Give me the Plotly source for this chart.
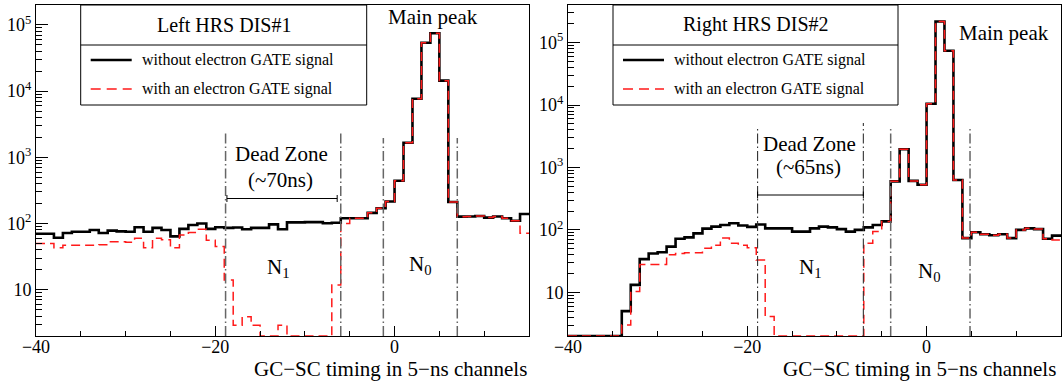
import plotly.graph_objects as go

# ---------------- data (counts per 5-ns channel, bins -40..14) ----------------
BIN_EDGES = list(range(-40, 16))

left_without = [70, 70, 61, 72, 75, 75, 80, 72, 78, 76,
                75, 88, 75, 86, 80, 64, 83, 95, 100, 83,
                88, 86, 87, 82, 86, 86, 97, 82, 104, 104,
                105, 105, 101, 103, 120, 120, 120, 145, 170, 215,
                443, 1660, 7670, 53800, 74700, 14400, 211, 127, 128, 130,
                123, 128, 120, 110, 139]
left_with = [50, 50, 43, 47, 47, 47, 47, 48, 53, 53,
             52, 60, 43, 60, 57, 43, 67, 73, 82, 56,
             45, 14, 2.9, 3.9, 2.9, 0, 0, 2.9, 0, 0,
             0, 0, 0, 11.8, 100, 120, 120, 145, 170, 215,
             443, 1660, 7670, 53800, 74700, 14400, 211, 127, 128, 130,
             123, 128, 120, 110, 71]

right_without = [0, 0, 0, 0, 0, 0, 5.0, 13.2, 34, 42,
                 44, 54, 72, 76, 88, 105, 113, 120, 128, 118,
                 112, 122, 106, 106, 106, 94, 94, 106, 113, 110,
                 103, 94, 100, 110, 120, 137, 600, 1960, 610, 530,
                 10500, 218000, 74000, 630, 74, 92, 85, 82, 85, 74,
                 100, 106, 103, 72, 81]
right_with = [0, 0, 0, 0, 0, 0, 3.0, 10.3, 28, 28,
              28, 40, 42, 43, 43, 51, 57, 74, 61, 57,
              52, 33, 4.1, 0, 0, 0, 0, 0, 0, 0,
              0, 0, 0, 61, 94, 137, 600, 1960, 610, 530,
              10500, 218000, 74000, 630, 74, 92, 85, 82, 85, 74,
              100, 106, 103, 72, 69]

left_zone_lines = [-18.85, -6.0]
left_peak_lines = [-1.25, 7.0]
right_zone_lines = [-18.85, -7.05]
right_peak_lines = [-4.0, 4.85]

x_major = [-40, -20, 0]
x_major_text = ["\u221240", "\u221220", "0"]
x_minor = [-35, -30, -25, -15, -10, -5, 5, 10, 15]
y_major = [10, 100, 1000, 10000, 100000]
y_major_text = ["10", "10<sup>2</sup>", "10<sup>3</sup>", "10<sup>4</sup>", "10<sup>5</sup>"]
y_minor = [m * 10 ** d for d in range(0, 6) for m in range(2, 10)]

Y_MIN = 2.0
W, H = 1062, 383
FONT = "'Liberation Serif', 'Times New Roman', 'DejaVu Serif', serif"


def px(x):
    return x / W


def py(y):
    return 1 - y / H


def steps(vals):
    v = [max(a, Y_MIN) for a in vals]
    return v + [v[-1]]


fig = go.Figure()

for xa, ya, wo, wi in (("x", "y", left_without, left_with),
                       ("x2", "y2", right_without, right_with)):
    fig.add_trace(go.Scatter(x=BIN_EDGES, y=steps(wo), mode="lines", line_shape="hv",
                             line=dict(color="black", width=2.6), xaxis=xa, yaxis=ya,
                             showlegend=False, hoverinfo="skip"))
    fig.add_trace(go.Scatter(x=BIN_EDGES, y=steps(wi), mode="lines", line_shape="hv",
                             line=dict(color="#ff1a1a", width=1.5, dash="9px,5px"),
                             xaxis=xa, yaxis=ya, showlegend=False, hoverinfo="skip"))

axis_common = dict(showgrid=False, zeroline=False, showline=True, linecolor="black",
                   linewidth=1, mirror=True, ticks="inside", tickcolor="black",
                   tickfont=dict(family=FONT, size=18, color="black"), automargin=False)

x_axis = dict(axis_common, range=[-40, 15], tickmode="array", tickvals=x_major,
              ticktext=x_major_text, ticklen=10, ticklabelstandoff=-6,
              minor=dict(tickmode="array", tickvals=x_minor, ticks="inside",
                         ticklen=5, tickcolor="black"))

y_axis = dict(axis_common, type="log", tickmode="array", tickvals=y_major,
              ticktext=y_major_text, ticklen=12,
              minor=dict(tickmode="array", tickvals=y_minor, ticks="inside",
                         ticklen=6, tickcolor="black"))

ydom = [py(336), py(5)]
fig.update_layout(
    width=W, height=H, autosize=False,
    margin=dict(l=0, r=0, t=0, b=0),
    paper_bgcolor="white", plot_bgcolor="white",
    xaxis=dict(x_axis, domain=[px(36), px(529)], anchor="y"),
    yaxis=dict(y_axis, domain=ydom, anchor="x", range=[0.30103, 5.30103]),
    xaxis2=dict(x_axis, domain=[px(568), px(1061)], anchor="y2"),
    yaxis2=dict(y_axis, domain=ydom, anchor="x2", range=[0.30103, 5.602]),
    font=dict(family=FONT, color="black"),
)

shapes = []
annotations = []

def vline(xref, x, ytop, color, width):
    shapes.append(dict(type="line", xref=xref, yref="paper", x0=x, x1=x,
                       y0=py(336), y1=py(ytop),
                       line=dict(color=color, width=width, dash="10px,3px,1.5px,3px")))

def bracket(xref, xa, xb, y):
    shapes.append(dict(type="line", xref=xref, yref="paper", x0=xa, x1=xb,
                       y0=py(y), y1=py(y), line=dict(color="black", width=1)))
    for xx in (xa, xb):
        shapes.append(dict(type="line", xref=xref, yref="paper", x0=xx, x1=xx,
                           y0=py(y - 3.5), y1=py(y + 3.5), line=dict(color="black", width=1)))

def text(xref, x, y, s, size=21, xanchor="center"):
    annotations.append(dict(xref=xref, yref="paper", x=x, y=py(y), text=s, showarrow=False,
                            xanchor=xanchor, yanchor="middle",
                            font=dict(family=FONT, size=size, color="black")))

# left panel decorations
for xv in left_zone_lines:
    vline("x", xv, 133, "#666666", 1.5)
for xv in left_peak_lines:
    vline("x", xv, 138, "#666666", 1.5)
bracket("x", left_zone_lines[0] + 0.15, left_zone_lines[1] - 0.4, 198.5)
text("x", -12.6, 154, "Dead Zone")
text("x", -12.7, 180, "(~70ns)")
text("x", -12.9, 268, "N<sub>1</sub>")
text("x", 2.9, 265, "N<sub>0</sub>")
text("x", 4.3, 17, "Main peak")

# right panel decorations
vline("x2", right_zone_lines[0], 128, "#333333", 1.1)
vline("x2", right_zone_lines[1], 123, "#333333", 1.1)
for xv in right_peak_lines:
    vline("x2", xv, 128, "#666666", 1.5)
bracket("x2", right_zone_lines[0], right_zone_lines[1], 195)
text("x2", -13.1, 144, "Dead Zone")
text("x2", -13.2, 167, "(~65ns)")
text("x2", -12.9, 268, "N<sub>1</sub>")
text("x2", 0.3, 272, "N<sub>0</sub>")
text("x2", 8.6, 33, "Main peak")

# legends (ROOT-style boxes)
def legend_box(x0, x1, title):
    shapes.append(dict(type="rect", xref="paper", yref="paper", x0=px(x0), x1=px(x1),
                       y0=py(105), y1=py(5), line=dict(color="black", width=1),
                       fillcolor="white", layer="above"))
    shapes.append(dict(type="line", xref="paper", yref="paper", x0=px(x0), x1=px(x1),
                       y0=py(45), y1=py(45), line=dict(color="black", width=1)))
    annotations.append(dict(xref="paper", yref="paper", x=px((x0 + x1) / 2), y=py(25),
                            text=title, showarrow=False, xanchor="center", yanchor="middle",
                            font=dict(family=FONT, size=20, color="black")))
    lx0, lx1 = x0 + 10, x0 + 51
    shapes.append(dict(type="line", xref="paper", yref="paper", x0=px(lx0), x1=px(lx1),
                       y0=py(60), y1=py(60), line=dict(color="black", width=2.6)))
    shapes.append(dict(type="line", xref="paper", yref="paper", x0=px(lx0), x1=px(lx1),
                       y0=py(89), y1=py(89),
                       line=dict(color="#ff1a1a", width=1.5, dash="10px,6px")))
    for yy, s in ((60, "without electron GATE signal"), (89, "with an electron GATE signal")):
        annotations.append(dict(xref="paper", yref="paper", x=px(x0 + 59), y=py(yy),
                                text=s, showarrow=False, xanchor="left", yanchor="middle",
                                font=dict(family=FONT, size=16, color="black")))

legend_box(80.7, 366.7, "Left HRS DIS#1")
legend_box(613, 898, "Right HRS DIS#2")

# x-axis titles (right aligned)
for xr in (529, 1058):
    annotations.append(dict(xref="paper", yref="paper", x=px(xr), y=py(369),
                            text="GC\u2212SC timing in 5\u2212ns channels", showarrow=False,
                            xanchor="right", yanchor="middle",
                            font=dict(family=FONT, size=21, color="black")))

fig.update_layout(shapes=shapes, annotations=annotations)
fig.write_html("out.html")
